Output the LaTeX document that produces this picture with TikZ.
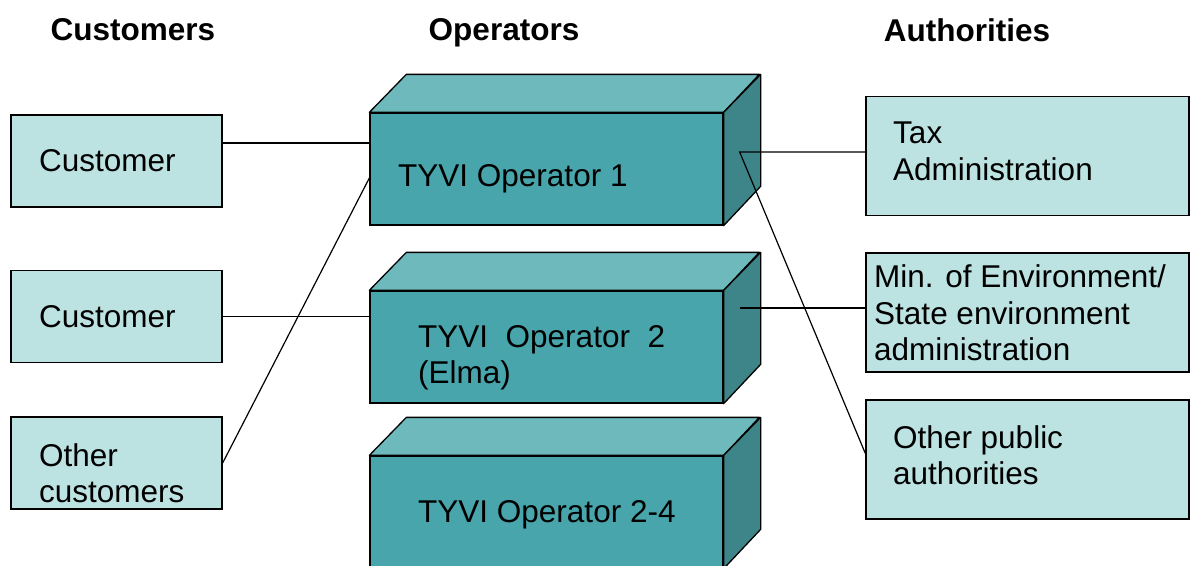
\documentclass[tikz,border=0pt]{standalone}
\usepackage{fontspec}
\setmainfont{Liberation Sans}
\usetikzlibrary{positioning,calc}

\definecolor{paleteal}{HTML}{BCE2E2}
\definecolor{frontteal}{HTML}{48A5AC}
\definecolor{topteal}{HTML}{6DB9BC}
\definecolor{sideteal}{HTML}{3D8588}

\tikzset{
  custbox/.style={draw,fill=paleteal,line width=1.3pt,minimum width=211pt,minimum height=92pt,inner sep=0pt},
  authbox/.style={draw,fill=paleteal,line width=1.3pt,minimum width=323pt,minimum height=119pt,inner sep=0pt},
  opfront/.style={draw,fill=frontteal,line width=1.3pt,minimum width=353pt,minimum height=112pt,inner sep=0pt},
  optop/.style={draw,fill=topteal,line width=1.3pt,line join=round},
  opside/.style={draw,fill=sideteal,line width=1.3pt,line join=round},
  lbl/.style={font=\fontsize{31.5}{36.5}\selectfont,align=left,inner sep=0pt,anchor=west},
  head/.style={font=\fontsize{31.5}{36.5}\selectfont\bfseries,inner sep=0pt},
  wire/.style={line width=1.2pt}
}

\begin{document}
\begin{tikzpicture}[x=1pt,y=-1pt]
\useasboundingbox (0,0) rectangle (1193,565);
\clip (0,0) rectangle (1193,565);

% column headings
\node[head] (hcust) at (133,30) {Customers};
\node[head] (hop) at (504,33) {Operators};
\node[head] (hauth) at (967,30) {Authorities};

% customers
\node[custbox] (c1) at (116.5,161) {};
\node[custbox] (c2) at (116.5,316.5) {};
\node[custbox] (c3) at (116.5,463) {};
\node[lbl] (c1t) at (39,161) {Customer};
\node[lbl] (c2t) at (39,317) {Customer};
\node[lbl] (c3t) at (39,473) {Other\\customers};

% operators
\node[opfront] (op1) at (546.5,169) {};
\node[opfront] (op2) at (546.5,347) {};
\node[opfront] (op3) at (546.5,512) {};
\foreach \n in {op1,op2,op3} {
  \filldraw[optop] (\n.north west) -- ++(37,-38) -- ++(353,0) -- (\n.north east) -- cycle;
  \filldraw[opside] (\n.north east) -- ++(37,-38) -- ++(0,112) -- (\n.south east) -- cycle;
}
\node[lbl] (op1t) at (398,179) {TYVI Operator 1};
\node[lbl] (op2t) at (418,358) {TYVI\ \ Operator\ \ 2\\(Elma)};
\node[lbl] (op3t) at (418,515) {TYVI Operator 2-4};

% authorities
\node[authbox] (a1) at (1027.5,156) {};
\node[authbox] (a2) at (1027.5,312.5) {};
\node[authbox] (a3) at (1027.5,459.5) {};
\node[lbl] (a1t) at (893,151.5) {Tax\\Administration};
\node[lbl] (a2t) at (874,313) {Min. of Environment/\\State environment\\administration};
\node[lbl] (a3t) at (893,455) {Other public\\authorities};

% links
\coordinate (tap1) at ([xshift=16pt,yshift=17pt]op1.east);
\coordinate (tap2) at ([xshift=16pt,yshift=39pt]op2.east);
\draw[wire] ([yshift=18pt]c1.east) coordinate (c1p) -- (c1p -| op1.west);
\draw[wire] (c2.east) -- (c2.east -| op2.west);
\draw[wire] (c3.east) -- ([yshift=-9pt]op1.west);
\draw[wire] (tap1 -| a1.west) -- (tap1) -- ([yshift=6pt]a3.west);
\draw[wire] (tap2) -- (tap2 -| a2.west);
\end{tikzpicture}
\end{document}
